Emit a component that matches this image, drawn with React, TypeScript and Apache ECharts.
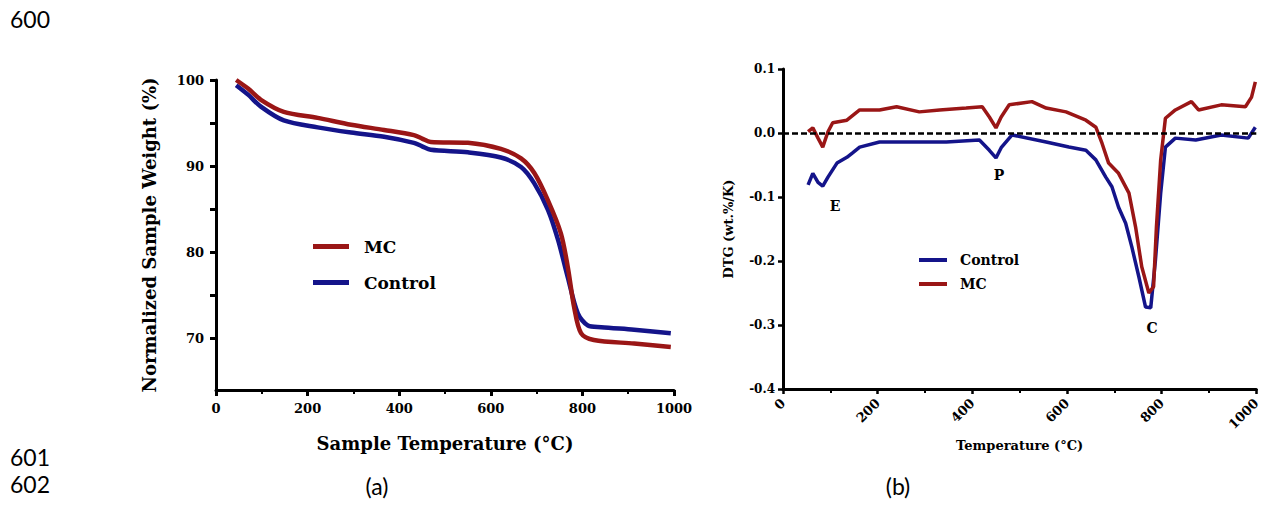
import React, { useEffect, useRef } from "react";
import * as echarts from "echarts";

// ---- (a) TGA data ----
const mcTempA = [44, 70, 98, 148, 222, 295, 367, 432, 450, 469, 550, 622, 666, 695, 725, 753, 768, 782, 797, 825, 913, 993];
const mcWeightA = [100, 99.0, 97.7, 96.3, 95.6, 94.8, 94.2, 93.6, 93.2, 92.8, 92.7, 92.0, 90.9, 89.2, 86.0, 82.2, 78.3, 73.6, 70.6, 69.8, 69.4, 69.0];
const ctrlTempA = [44, 70, 98, 148, 222, 295, 367, 432, 450, 469, 550, 622, 666, 695, 725, 747, 768, 790, 812, 841, 913, 993];
const ctrlWeightA = [99.4, 98.3, 96.9, 95.3, 94.5, 93.9, 93.4, 92.7, 92.3, 91.9, 91.6, 91.0, 89.9, 88.0, 84.9, 81.4, 77.1, 72.9, 71.5, 71.3, 71.0, 70.6];

// ---- (b) DTG data ----
const mcTempB = [53, 63, 74, 84, 95, 105, 135, 162, 204, 240, 288, 331, 387, 421, 436, 450, 461, 478, 526, 556, 598, 640, 661, 674, 688, 709, 731, 745, 758, 773, 783, 789, 798, 808, 829, 863, 878, 926, 977, 990, 998];
const mcDtgB = [0.002, 0.008, -0.008, -0.022, 0.002, 0.016, 0.02, 0.036, 0.036, 0.041, 0.033, 0.036, 0.039, 0.041, 0.025, 0.008, 0.025, 0.044, 0.049, 0.039, 0.033, 0.02, 0.009, -0.016, -0.047, -0.063, -0.094, -0.147, -0.209, -0.25, -0.24, -0.147, -0.042, 0.023, 0.036, 0.049, 0.036, 0.044, 0.041, 0.056, 0.08];
const ctrlTempB = [53, 63, 74, 84, 95, 114, 135, 147, 162, 204, 274, 345, 415, 436, 450, 461, 484, 556, 604, 640, 661, 682, 695, 709, 724, 737, 752, 766, 777, 787, 798, 808, 829, 872, 926, 983, 998];
const ctrlDtgB = [-0.081, -0.063, -0.077, -0.083, -0.069, -0.047, -0.038, -0.031, -0.022, -0.014, -0.014, -0.014, -0.011, -0.027, -0.039, -0.023, -0.003, -0.014, -0.022, -0.027, -0.042, -0.069, -0.084, -0.116, -0.141, -0.178, -0.225, -0.272, -0.273, -0.198, -0.094, -0.022, -0.008, -0.011, -0.003, -0.008, 0.009];

const yLabelsA = [70, 80, 90, 100];
const yTicksA = [70, 75, 80, 85, 90, 95, 100];

const RED = "#9a1616";
const BLUE = "#14148a";
const SERIF = "'DejaVu Serif', 'Liberation Serif', serif";
const SANS = "Lato, 'Open Sans', sans-serif";

const pairs = (xs: number[], ys: number[]) => xs.map((x, i) => [x, ys[i]]);

const axisBold = { fontFamily: SERIF, fontWeight: "bold", color: "#000" };

export default function App() {
  const ref = useRef<HTMLDivElement>(null);
  useEffect(() => {
    const chart = echarts.init(ref.current!, null, { renderer: "svg" });
    chart.setOption({
      animation: false,
      backgroundColor: "#fff",
      grid: [
        { left: 216, top: 80, width: 458, height: 310 },
        { left: 783, top: 69, width: 475, height: 320 },
      ],
      xAxis: [
        {
          gridIndex: 0, type: "value", min: 0, max: 1000, interval: 200,
          axisLine: { onZero: false, lineStyle: { color: "#000", width: 3 } },
          axisTick: { length: 6, lineStyle: { color: "#000", width: 3 } },
          minorTick: { show: true, splitNumber: 2, length: 4, lineStyle: { color: "#000", width: 2 } },
          splitLine: { show: false },
          axisLabel: { ...axisBold, fontSize: 13, margin: 12, formatter: (v: number) => String(v) },
          name: "Sample Temperature (°C)", nameLocation: "middle", nameGap: 44,
          nameTextStyle: { ...axisBold, fontSize: 18 },
        },
        {
          gridIndex: 1, type: "value", min: 0, max: 1000, interval: 200,
          axisLine: { onZero: false, lineStyle: { color: "#000", width: 3 } },
          axisTick: { length: 5, lineStyle: { color: "#000", width: 2.5 } },
          minorTick: { show: true, splitNumber: 2, length: 4, lineStyle: { color: "#000", width: 2 } },
          splitLine: { show: false },
          axisLabel: { ...axisBold, fontSize: 13, margin: 12, rotate: 45, formatter: (v: number) => String(v) },
          name: "Temperature (°C)", nameLocation: "middle", nameGap: 50,
          nameTextStyle: { ...axisBold, fontSize: 13 },
        },
      ],
      yAxis: [
        {
          gridIndex: 0, type: "value", min: 64, max: 100, position: "left",
          axisLine: { show: true, onZero: false, lineStyle: { color: "#000", width: 3 } },
          axisTick: { show: true, inside: false, length: 6, customValues: yTicksA, lineStyle: { color: "#000", width: 3 } },
          axisLabel: { ...axisBold, fontSize: 13, margin: 12, customValues: yLabelsA },
          splitLine: { show: false },
          name: "Normalized Sample Weight (%)", nameLocation: "middle", nameGap: 58,
          nameTextStyle: { ...axisBold, fontSize: 18 },
        },
        {
          gridIndex: 1, type: "value", min: -0.4, max: 0.1, interval: 0.1, position: "left",
          axisLine: { show: true, onZero: false, lineStyle: { color: "#000", width: 3 } },
          axisTick: { show: true, length: 5, lineStyle: { color: "#000", width: 2.5 } },
          axisLabel: { ...axisBold, fontSize: 12, margin: 8, formatter: (v: number) => v.toFixed(1) },
          splitLine: { show: false },
          name: "DTG (wt.%/K)", nameLocation: "middle", nameGap: 48,
          nameTextStyle: { ...axisBold, fontSize: 13 },
        },
      ],
      legend: [
        {
          data: ["MC", "Control"], orient: "vertical", left: 308, top: 233,
          itemWidth: 36, itemHeight: 5, itemGap: 19, icon: "rect",
          textStyle: { ...axisBold, fontSize: 17, padding: [0, 0, 0, 10] },
        },
        {
          data: ["Control", "MC"], orient: "vertical", left: 914, top: 248,
          itemWidth: 28, itemHeight: 4, itemGap: 10, icon: "rect",
          textStyle: { ...axisBold, fontSize: 14, padding: [0, 0, 0, 8] },
        },
      ],
      series: [
        {
          name: "Control", type: "line", xAxisIndex: 0, yAxisIndex: 0, color: BLUE,
          data: pairs(ctrlTempA, ctrlWeightA), showSymbol: false, symbol: "none", smooth: 0.3,
          lineStyle: { width: 4.5, color: BLUE },
        },
        {
          name: "MC", type: "line", xAxisIndex: 0, yAxisIndex: 0, color: RED,
          data: pairs(mcTempA, mcWeightA), showSymbol: false, symbol: "none", smooth: 0.3,
          lineStyle: { width: 4.5, color: RED },
        },
        {
          name: "Control", type: "line", xAxisIndex: 1, yAxisIndex: 1, color: BLUE,
          data: pairs(ctrlTempB, ctrlDtgB), showSymbol: false, symbol: "none",
          lineStyle: { width: 3.5, color: BLUE },
        },
        {
          name: "MC", type: "line", xAxisIndex: 1, yAxisIndex: 1, color: RED,
          data: pairs(mcTempB, mcDtgB), showSymbol: false, symbol: "none",
          lineStyle: { width: 3.5, color: RED },
          markLine: {
            silent: true, symbol: ["none", "none"], label: { show: false },
            lineStyle: { color: "#000", type: [6, 3], width: 2.5 },
            data: [{ yAxis: 0 }],
          },
        },
      ],
      graphic: [
        { type: "text", x: 30, y: 19, style: { text: "600", fontFamily: SANS, fontSize: 23, fill: "#000", align: "center", verticalAlign: "middle" } },
        { type: "text", x: 30, y: 457, style: { text: "601", fontFamily: SANS, fontSize: 23, fill: "#000", align: "center", verticalAlign: "middle" } },
        { type: "text", x: 30, y: 484, style: { text: "602", fontFamily: SANS, fontSize: 23, fill: "#000", align: "center", verticalAlign: "middle" } },
        { type: "text", x: 377, y: 486, style: { text: "(a)", fontFamily: SANS, fontSize: 23, fill: "#000", align: "center", verticalAlign: "middle" } },
        { type: "text", x: 898, y: 486, style: { text: "(b)", fontFamily: SANS, fontSize: 23, fill: "#000", align: "center", verticalAlign: "middle" } },
        { type: "text", x: 835, y: 206, style: { text: "E", fontFamily: SERIF, fontWeight: "bold", fontSize: 14, fill: "#000", align: "center", verticalAlign: "middle" } },
        { type: "text", x: 999, y: 175, style: { text: "P", fontFamily: SERIF, fontWeight: "bold", fontSize: 14, fill: "#000", align: "center", verticalAlign: "middle" } },
        { type: "text", x: 1152, y: 328, style: { text: "C", fontFamily: SERIF, fontWeight: "bold", fontSize: 14, fill: "#000", align: "center", verticalAlign: "middle" } },
      ],
    });
    return () => chart.dispose();
  }, []);
  return (
    <div
      ref={ref}
      style={{ position: "absolute", left: 0, top: 0, width: 1263, height: 506, background: "#fff" }}
    />
  );
}
